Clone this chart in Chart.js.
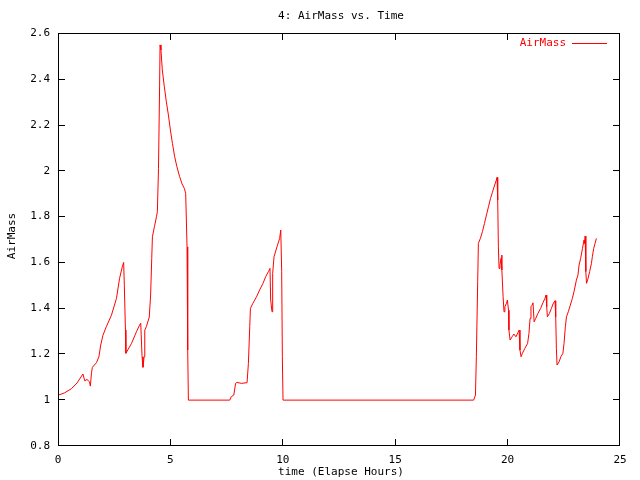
<!DOCTYPE html>
<html>
<head>
<meta charset="utf-8">
<script src="https://cdn.jsdelivr.net/npm/chart.js@4.4.1/dist/chart.umd.min.js"></script>
<style>
html,body{margin:0;padding:0;background:#fff;}
#wrap{width:640px;height:480px;position:relative;}
</style>
</head>
<body>
<div id="wrap"><canvas id="c" width="640" height="480"></canvas></div>
<script>
const chartTitle = "4: AirMass vs. Time";
const xTitle = "time (Elapse Hours)";
const yTitle = "AirMass";
const seriesName = "AirMass";
const xTicks = [0, 5, 10, 15, 20, 25];
const yTicks = [0.8, 1, 1.2, 1.4, 1.6, 1.8, 2, 2.2, 2.4, 2.6];

const times = [
  0.00, 0.30, 0.60, 0.85, 1.11, 1.19, 1.29, 1.40, 1.44, 1.49, 1.53, 1.71, 1.82, 1.90, 2.00, 2.15, 2.38, 2.60, 2.74, 2.86, 2.92, 2.95, 3.00,
  3.02, 3.27, 3.49, 3.63, 3.68, 3.74, 3.78, 3.83, 3.86, 3.93, 4.06, 4.12, 4.17, 4.20, 4.29, 4.38, 4.42, 4.47, 4.52, 4.54,
  4.58, 4.64, 4.73, 4.82, 4.91, 5.00, 5.09, 5.19, 5.29, 5.41, 5.52, 5.62, 5.68, 5.74, 5.77, 5.80,
  7.64, 7.71, 7.82, 7.90, 7.96, 8.16, 8.41, 8.47, 8.53, 8.56, 8.67, 8.83, 8.97, 9.12, 9.24, 9.36, 9.43, 9.46, 9.52, 9.55,
  9.61, 9.74, 9.86, 9.91, 9.95, 9.98, 10.01,
  18.49, 18.57, 18.61, 18.67, 18.70, 18.79, 18.88, 18.97, 19.06, 19.15, 19.24, 19.32, 19.41, 19.50, 19.53, 19.56, 19.59,
  19.62, 19.66, 19.71, 19.74, 19.75, 19.80, 19.84, 19.88, 19.95, 19.99, 20.04, 20.06, 20.11, 20.20, 20.28, 20.37, 20.46,
  20.51, 20.55, 20.60, 20.66, 20.77, 20.89, 20.95, 21.00, 21.04, 21.09, 21.13, 21.18, 21.25, 21.35, 21.47, 21.57, 21.66,
  21.71, 21.74, 21.77, 21.86, 21.95, 22.02, 22.11, 22.14, 22.17, 22.20, 22.29, 22.37, 22.46, 22.51, 22.57, 22.62, 22.70,
  22.79, 22.88, 22.97, 23.06, 23.13, 23.18, 23.25, 23.33, 23.40, 23.43, 23.45, 23.48, 23.51, 23.56, 23.65, 23.73, 23.77,
  23.83, 23.89, 23.95
];
const airmass = [
  1.021, 1.032, 1.050, 1.075, 1.114, 1.084, 1.090, 1.080, 1.061, 1.119, 1.143, 1.163, 1.189, 1.240, 1.283, 1.320, 1.371, 1.443, 1.531, 1.581, 1.600, 1.501, 1.305,
  1.204, 1.247, 1.298, 1.327, 1.335, 1.189, 1.143, 1.189, 1.305, 1.320, 1.362, 1.458, 1.618, 1.712, 1.756, 1.799, 1.821, 2.010, 2.373, 2.548,
  2.526, 2.439, 2.366, 2.300, 2.243, 2.177, 2.119, 2.061, 2.017, 1.974, 1.942, 1.923, 1.901, 1.668, 1.218, 1.000,
  1.000, 1.015, 1.022, 1.073, 1.077, 1.073, 1.076, 1.160, 1.320, 1.400, 1.422, 1.450, 1.480, 1.509, 1.538, 1.560, 1.574, 1.436, 1.385, 1.553,
  1.625, 1.668, 1.705, 1.741, 1.560, 1.189, 1.000,
  1.000, 1.022, 1.189, 1.516, 1.683, 1.705, 1.734, 1.770, 1.807, 1.843, 1.879, 1.904, 1.933, 1.959, 1.971, 1.872, 1.668,
  1.574, 1.589, 1.618, 1.632, 1.567, 1.450, 1.385, 1.407, 1.422, 1.436, 1.392, 1.305, 1.262, 1.276, 1.288, 1.276, 1.294,
  1.305, 1.218, 1.189, 1.204, 1.226, 1.247, 1.291, 1.356, 1.407, 1.414, 1.424, 1.341, 1.356, 1.378, 1.400, 1.424, 1.443,
  1.458, 1.407, 1.363, 1.378, 1.400, 1.419, 1.433, 1.363, 1.226, 1.153, 1.167, 1.189, 1.204, 1.247, 1.320, 1.363, 1.385,
  1.414, 1.443, 1.480, 1.523, 1.545, 1.589, 1.618, 1.661, 1.698, 1.683, 1.715, 1.560, 1.509, 1.523, 1.560, 1.596, 1.625,
  1.661, 1.683, 1.705
];

const FONT = "DejaVu Sans Mono";
const FSIZE = 11;

const gnuplotDecor = {
  id: 'gnuplotDecor',
  afterDraw(chart) {
    const ctx = chart.ctx;
    const a = chart.chartArea;
    const L = Math.round(a.left), R = Math.round(a.right) - 1;
    const T = Math.round(a.top), B = Math.round(a.bottom) - 1;
    const x0 = xTicks[0], x1 = xTicks[xTicks.length - 1];
    const y0 = yTicks[0], y1 = yTicks[yTicks.length - 1];
    const xpix = v => L + (v - x0) / (x1 - x0) * (R - L);
    const ypix = v => B - (v - y0) / (y1 - y0) * (B - T);
    ctx.save();
    ctx.fillStyle = '#000';
    ctx.fillRect(L, T, R - L + 1, 1);
    ctx.fillRect(L, B, R - L + 1, 1);
    ctx.fillRect(L, T, 1, B - T + 1);
    ctx.fillRect(R, T, 1, B - T + 1);
    const tl = 6;
    for (let i = 0; i < xTicks.length; i++) {
      const px = Math.round(xpix(xTicks[i]));
      ctx.fillRect(px, B - tl, 1, tl + 1);
      ctx.fillRect(px, T, 1, tl + 1);
    }
    for (let i = 0; i < yTicks.length; i++) {
      const py = Math.round(ypix(yTicks[i]));
      ctx.fillRect(L, py, tl + 1, 1);
      ctx.fillRect(R - tl, py, tl + 1, 1);
    }

    ctx.font = FSIZE + 'px "' + FONT + '"';
    ctx.textAlign = 'center';
    ctx.textBaseline = 'middle';
    ctx.fillText(chartTitle, 341, 16);
    ctx.fillText(xTitle, 341, 472);
    ctx.save();
    ctx.translate(12, 236);
    ctx.rotate(-Math.PI / 2);
    ctx.fillText(yTitle, 0, 0);
    ctx.restore();

    ctx.fillStyle = '#ff0000';
    ctx.textAlign = 'right';
    ctx.fillText(seriesName, 566, 43);
    ctx.fillRect(572, 43, 35, 1);
    ctx.restore();
  }
};

new Chart(document.getElementById('c'), {
  type: 'line',
  data: {
    datasets: [{
      label: seriesName,
      data: times.map((t, i) => ({x: t, y: airmass[i]})),
      borderColor: '#ff0000',
      borderWidth: 1,
      pointRadius: 0,
      tension: 0,
      fill: false
    }]
  },
  options: {
    responsive: false,
    animation: false,
    events: [],
    layout: {padding: {top: 33, right: 20, left: 0, bottom: 0}},
    plugins: {legend: {display: false}, title: {display: false}, tooltip: {enabled: false}},
    scales: {
      x: {
        type: 'linear', min: 0, max: 25,
        afterBuildTicks: s => { s.ticks = xTicks.map(v => ({value: v})); },
        afterFit: s => { s.height = 34; },
        grid: {display: false, drawTicks: false},
        border: {display: false},
        ticks: {color: '#000', font: {family: FONT, size: FSIZE}, padding: 8, maxRotation: 0, autoSkip: false}
      },
      y: {
        type: 'linear', min: 0.8, max: 2.6,
        afterBuildTicks: s => { s.ticks = yTicks.map(v => ({value: v})); },
        afterFit: s => { s.width = 58; },
        grid: {display: false, drawTicks: false},
        border: {display: false},
        ticks: {color: '#000', font: {family: FONT, size: FSIZE}, padding: 8, autoSkip: false,
          callback: v => String(Math.round(v * 10) / 10)}
      }
    }
  },
  plugins: [gnuplotDecor]
});
</script>
</body>
</html>
